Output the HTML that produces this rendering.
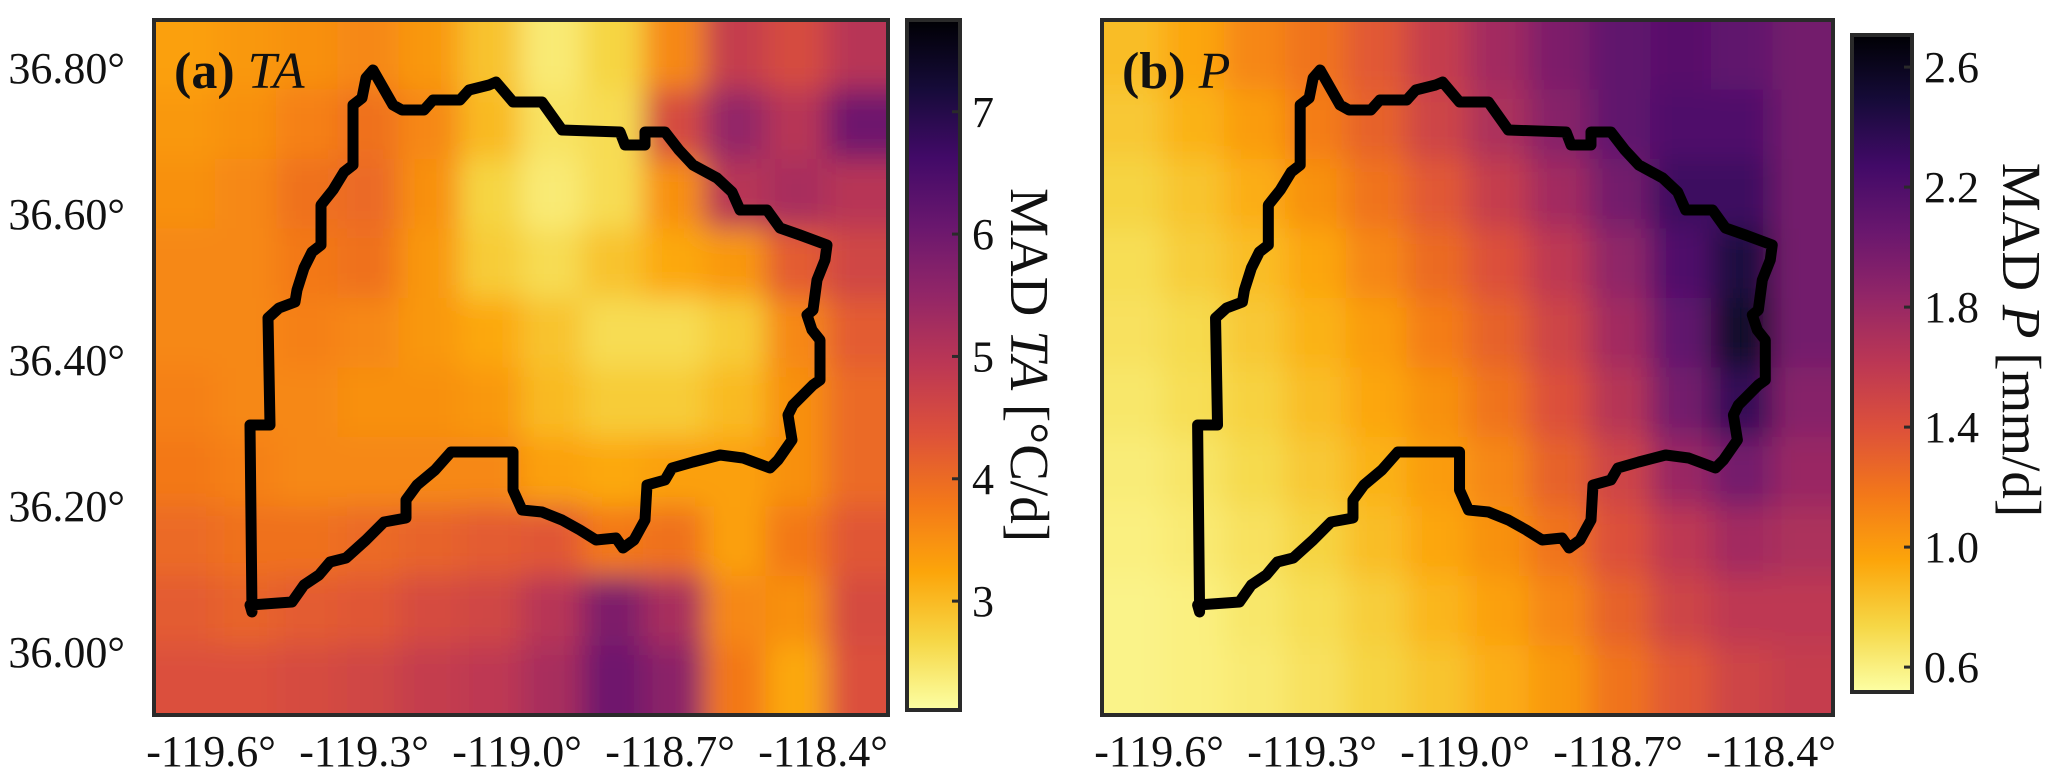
<!DOCTYPE html>
<html><head><meta charset="utf-8">
<style>
html,body{margin:0;padding:0;background:#fff;}
svg{display:block;font-family:"Liberation Serif",serif;}
</style></head>
<body>
<svg id="fig" width="2067" height="780" viewBox="0 0 2067 780" xmlns="http://www.w3.org/2000/svg">
<defs>
<filter id="blur" x="-10%" y="-10%" width="120%" height="120%"><feGaussianBlur stdDeviation="14"/></filter>
<clipPath id="clipA"><rect x="154" y="20" width="734" height="695"/></clipPath>
<clipPath id="clipB"><rect x="1102" y="20" width="731" height="695"/></clipPath>
</defs>
</svg>
<script>
// ---------- data ----------
const lonTicks = [-119.6, -119.3, -119.0, -118.7, -118.4];
const lonTickLabels = ["-119.6°", "-119.3°", "-119.0°", "-118.7°", "-118.4°"];
const latTicks = [36.8, 36.6, 36.4, 36.2, 36.0];
const latTickLabels = ["36.80°", "36.60°", "36.40°", "36.20°", "36.00°"];
const cbTicksA = [3, 4, 5, 6, 7];
const cbTicksB = [0.6, 1.0, 1.4, 1.8, 2.2, 2.6];
const cbTickLabelsB = ["0.6", "1.0", "1.4", "1.8", "2.2", "2.6"];
const taGrid = [
 [3.3,3.4,3.5,3.6,3.4,2.9,2.4,2.7,3.6,4.8,4.5,5.0],
 [3.4,3.5,3.7,3.9,3.6,3.0,2.5,2.6,4.5,5.5,5.0,6.0],
 [3.5,3.6,3.9,4.0,3.5,2.7,2.4,2.6,3.5,5.0,5.2,5.0],
 [3.6,3.6,3.8,3.9,3.4,2.8,2.6,2.9,3.2,3.4,4.2,4.6],
 [3.6,3.6,3.7,3.6,3.4,3.2,2.9,2.6,2.6,2.8,3.6,4.2],
 [3.7,3.6,3.6,3.5,3.5,3.4,3.0,2.8,2.8,3.0,3.5,4.0],
 [3.8,3.7,3.6,3.6,3.6,3.6,3.3,3.2,3.3,3.3,3.5,4.0],
 [4.0,3.9,3.9,4.0,4.1,4.2,4.3,3.8,3.9,3.3,3.8,4.3],
 [4.2,4.1,4.2,4.3,4.5,4.6,5.0,5.8,5.2,3.6,3.5,4.5],
 [4.4,4.4,4.5,4.6,4.8,4.9,5.2,6.0,5.6,3.8,3.2,4.4]
];
const pGrid = [
 [0.85,0.95,1.1,1.2,1.35,1.55,1.75,1.95,2.1,2.15,2.1,2.0],
 [0.8,0.9,1.0,1.15,1.3,1.5,1.7,1.9,2.1,2.2,2.2,2.0],
 [0.75,0.82,0.92,1.05,1.2,1.35,1.55,1.75,2.0,2.3,2.3,2.0],
 [0.7,0.78,0.85,0.95,1.1,1.25,1.4,1.6,1.85,2.2,2.45,2.0],
 [0.68,0.72,0.8,0.9,1.0,1.15,1.3,1.5,1.75,2.1,2.55,2.0],
 [0.65,0.7,0.76,0.85,0.95,1.05,1.2,1.4,1.65,2.0,2.35,1.9],
 [0.62,0.66,0.72,0.8,0.9,1.0,1.1,1.3,1.5,1.8,2.0,1.8],
 [0.6,0.63,0.68,0.75,0.85,0.95,1.05,1.2,1.4,1.6,1.75,1.7],
 [0.58,0.6,0.65,0.7,0.78,0.88,0.98,1.1,1.3,1.5,1.6,1.6],
 [0.58,0.6,0.63,0.68,0.75,0.82,0.92,1.02,1.2,1.35,1.5,1.55]
];
const rangeA = [2.11, 7.75];
const rangeB = [0.517, 2.707];
// basin outline (offsets from panel left edge, y absolute)
const basin = [[219,70],[239,105],[248,110],[270,110],[279,100],[306,100],[315,90],[335,85],[342,82],[359,102],[388,102],[408,130],[466,132],[471,145],[491,145],[491,132],[511,132],[525,150],[539,165],[563,178],[578,192],[586,210],[613,210],[626,228],[646,235],[673,245],[671,260],[663,280],[659,310],[653,315],[658,330],[666,340],[666,380],[659,385],[649,395],[639,405],[634,415],[638,440],[624,460],[616,468],[589,458],[566,455],[539,462],[518,468],[511,480],[493,485],[491,520],[480,540],[469,548],[462,538],[442,540],[426,530],[408,520],[388,512],[368,510],[359,490],[359,452],[297,452],[281,470],[263,485],[252,500],[252,518],[230,522],[212,540],[192,558],[176,562],[165,575],[150,585],[138,602],[96,605],[98,612],[96,425],[116,425],[114,318],[125,308],[141,302],[143,290],[150,268],[158,252],[167,245],[167,205],[179,190],[190,172],[199,165],[199,105],[208,98],[212,78]];

// ---------- helpers ----------
const NS = "http://www.w3.org/2000/svg";
const svg = document.getElementById("fig");
function mk(tag, attrs, parent){const e=document.createElementNS(NS,tag);for(const k in attrs)e.setAttribute(k,attrs[k]);(parent||svg).appendChild(e);return e;}
const stops=[[0,[0,0,4]],[0.1,[22,11,57]],[0.2,[66,10,104]],[0.3,[106,23,110]],[0.4,[147,38,103]],[0.5,[188,55,84]],[0.6,[221,81,58]],[0.7,[243,120,25]],[0.8,[252,165,10]],[0.9,[246,215,70]],[1,[252,255,164]]];
function inferno(t){t=Math.max(0,Math.min(1,t));for(let i=1;i<stops.length;i++){if(t<=stops[i][0]){const a=stops[i-1],b=stops[i];const f=(t-a[0])/(b[0]-a[0]);const c=a[1].map((v,j)=>Math.round(v+(b[1][j]-v)*f));return `rgb(${c[0]},${c[1]},${c[2]})`;}}return "rgb(252,255,164)";}
function colorFor(v,r){return inferno(1-(v-r[0])/(r[1]-r[0]));}
const PANEL_TOP=20, PANEL_H=695;
function xOf(left,lon){return left+49+(lon+119.6)*510;}
function yOf(lat){return 67+(36.8-lat)*730;}

function panel(id,left,width,grid,range,clip,title,italic){
  const outer=mk("g",{"clip-path":`url(#${clip})`});
  
  
  const g=mk("g",{filter:"url(#blur)"},outer);
  const rows=grid.length, cols=grid[0].length;
  const cw=width/cols, ch=PANEL_H/rows;
  for(let r=0;r<rows;r++)for(let c=0;c<cols;c++){
    let x=left+c*cw, y=PANEL_TOP+r*ch, w=cw+1, h=ch+1;
    if(c===0){x-=60;w+=60;} if(c===cols-1){w+=60;}
    if(r===0){y-=60;h+=60;} if(r===rows-1){h+=60;}
    const cell=mk("rect",{x:x,y:y,width:w,height:h,fill:colorFor(grid[r][c],range)},g);
    
    
  }
  const pts=basin.map(p=>(left+p[0]*(width/734))+","+p[1]).join(" ");
  const poly=mk("polygon",{points:pts,fill:"none",stroke:"#000","stroke-width":11,"stroke-linejoin":"round","stroke-linecap":"round"},outer);
  
  
  const frame=mk("rect",{x:left,y:PANEL_TOP,width:width,height:PANEL_H,fill:"none",stroke:"#2a2a2a","stroke-width":4});
  
  
  const t=mk("text",{x:left+20,y:88,"font-size":52,fill:"#111"});
  
  
  const b=mk("tspan",{"font-weight":"bold"},t); b.textContent=title+" ";
  const it=mk("tspan",{"font-style":"italic"},t); it.textContent=italic;
  lonTicks.forEach((lon,i)=>{
    const tx=mk("text",{x:xOf(left,lon)+8,y:766,"font-size":44,"text-anchor":"middle",fill:"#111"});
    
    
    tx.textContent=lonTickLabels[i];
  });
}

function colorbar(id,x,y0,w,y1,range,ticks,labels,labelX,labelY,labelParts){
  const gid="grad"+id;
  const defs=svg.querySelector("defs");
  const lg=mk("linearGradient",{id:gid,x1:0,y1:1,x2:0,y2:0},defs);
  for(let i=0;i<=20;i++){mk("stop",{offset:i/20,"stop-color":colorFor(range[0]+(range[1]-range[0])*i/20,range)},lg);}
  const r=mk("rect",{x:x,y:y0,width:w,height:y1-y0,fill:`url(#${gid})`,stroke:"#2a2a2a","stroke-width":4});
  
  
  const vy=v=>y1-(v-range[0])/(range[1]-range[0])*(y1-y0);
  ticks.forEach((v,i)=>{
    const ty=vy(v);
    const tk=mk("line",{x1:x+w-8,x2:x+w,y1:ty,y2:ty,stroke:"#2a2a2a","stroke-width":3});
    
    
    const tl=mk("text",{x:x+w+12,y:ty+15,"font-size":44,fill:"#111"});
    
    
    tl.textContent=labels[i];
  });
  const lab=mk("text",{x:labelX,y:labelY,"font-size":55,"text-anchor":"middle",fill:"#111",transform:`rotate(90 ${labelX} ${labelY})`,"dominant-baseline":"central"});
  
  
  labelParts.forEach(p=>{const s=mk("tspan",p[1]?{"font-style":"italic"}:{},lab);s.textContent=p[0];});
}

panel("panel-a",154,734,taGrid,rangeA,"clipA","(a)","TA");
panel("panel-b",1102,731,pGrid,rangeB,"clipB","(b)","P");
latTicks.forEach((lat,i)=>{
  const t=mk("text",{x:125,y:yOf(lat)+16,"font-size":44,"text-anchor":"end",fill:"#111"});
  
  
  t.textContent=latTickLabels[i];
});
colorbar("ta",907,20,53,710,rangeA,cbTicksA,cbTicksA.map(String),1030,365,[["MAD ",0],["TA",1],[" [°C/d]",0]]);
colorbar("p",1852,35,60,692,rangeB,cbTicksB,cbTickLabelsB,2022,340,[["MAD ",0],["P",1],[" [mm/d]",0]]);
</script>
</body></html>
